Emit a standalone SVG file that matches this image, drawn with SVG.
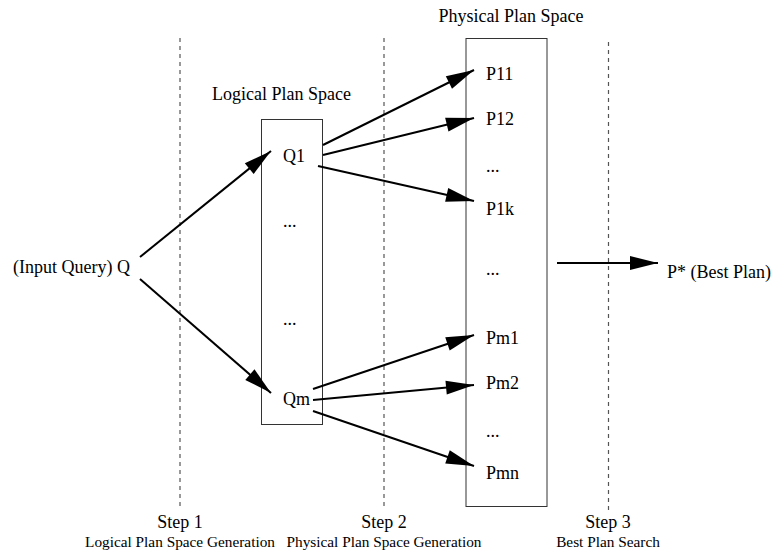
<svg xmlns="http://www.w3.org/2000/svg" width="777" height="552" viewBox="0 0 777 552">
<style>
text{font-family:"Liberation Serif","Times New Roman",serif;fill:#000}
.t{font-size:18px}
.s{font-size:15.3px}
.m{text-anchor:middle}
.d{stroke:#555;stroke-width:1.2;stroke-dasharray:4 4;fill:none}
.b{fill:none;stroke:#333;stroke-width:1}
.c line{stroke:#000;stroke-width:2;marker-end:url(#ah)}
</style>
<defs>
<marker id="ah" markerUnits="userSpaceOnUse" markerWidth="28" markerHeight="14" refX="28" refY="7" orient="auto" overflow="visible">
<path d="M0,0 L28,7 L0,14 z" fill="#000"/>
</marker>
</defs>
<g id="dividers">
<line class="d" x1="180" y1="38" x2="180" y2="508"/>
<line class="d" x1="384" y1="38" x2="384" y2="508"/>
<line class="d" x1="608.5" y1="42" x2="608.5" y2="512"/>
</g>
<g id="logical-space">
<rect class="b" x="261.5" y="119.5" width="61" height="305"/>
<text class="t m" x="281.5" y="100">Logical Plan Space</text>
</g>
<g id="physical-space">
<rect class="b" x="466" y="38.5" width="81" height="468"/>
<text class="t m" x="511" y="22">Physical Plan Space</text>
</g>
<g id="Q"><text class="t" x="13" y="273">(Input Query) Q</text></g>
<g id="Q1"><text class="t" x="283" y="162">Q1</text></g>
<g id="Qdots1"><text class="t" x="283" y="227">...</text></g>
<g id="Qdots2"><text class="t" x="283" y="325">...</text></g>
<g id="Qm"><text class="t" x="283" y="405">Qm</text></g>
<g id="P11"><text class="t" x="486" y="80">P11</text></g>
<g id="P12"><text class="t" x="486" y="125">P12</text></g>
<g id="Pdots1"><text class="t" x="486" y="172">...</text></g>
<g id="P1k"><text class="t" x="486" y="215">P1k</text></g>
<g id="Pdots2"><text class="t" x="486" y="275">...</text></g>
<g id="Pm1"><text class="t" x="486" y="344">Pm1</text></g>
<g id="Pm2"><text class="t" x="486" y="389">Pm2</text></g>
<g id="Pdots3"><text class="t" x="486" y="437">...</text></g>
<g id="Pmn"><text class="t" x="486" y="479">Pmn</text></g>
<g id="Pstar"><text class="t" x="667" y="278">P* (Best Plan)</text></g>
<g id="step1"><text class="t m" x="180" y="528">Step 1</text><text class="s m" x="180" y="547">Logical Plan Space Generation</text></g>
<g id="step2"><text class="t m" x="384" y="528">Step 2</text><text class="s m" x="384" y="547">Physical Plan Space Generation</text></g>
<g id="step3"><text class="t m" x="608" y="528">Step 3</text><text class="s m" x="608" y="547">Best Plan Search</text></g>
<g id="connectors" class="c">
<line x1="140" y1="257" x2="271" y2="151"/>
<line x1="140" y1="279" x2="271" y2="393"/>
<line x1="323" y1="145" x2="474" y2="70"/>
<line x1="323" y1="155" x2="474" y2="118"/>
<line x1="318" y1="166" x2="474" y2="201"/>
<line x1="313" y1="389" x2="474" y2="335"/>
<line x1="313" y1="400" x2="474" y2="385"/>
<line x1="313" y1="411" x2="474" y2="466"/>
<line x1="557" y1="263" x2="658" y2="263"/>
</g>
</svg>
